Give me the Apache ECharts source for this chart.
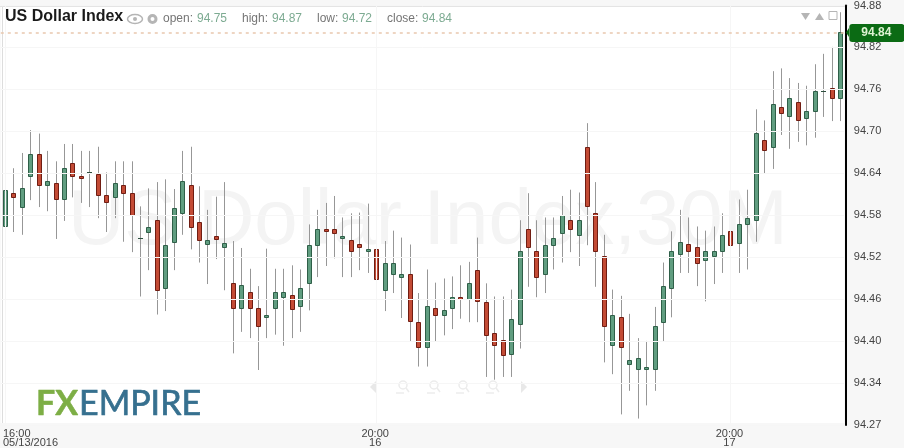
<!DOCTYPE html>
<html>
<head>
<meta charset="utf-8">
<style>html,body{margin:0;padding:0;background:#fff}#chart{width:904px;height:448px}</style>
<script src="https://cdn.jsdelivr.net/npm/echarts@6/dist/echarts.min.js"></script>
</head>
<body>
<div id="chart"></div>
<script>
var opens = [94.562,94.610,94.589,94.634,94.666,94.621,94.624,94.600,94.652,94.634,
  94.639,94.637,94.607,94.604,94.621,94.610,94.544,94.553,94.570,94.472,
  94.539,94.581,94.621,94.567,94.536,94.547,94.532,94.479,94.443,94.467,
  94.444,94.430,94.443,94.460,94.462,94.447,94.479,94.535,94.557,94.557,
  94.544,94.542,94.536,94.526,94.529,94.470,94.492,94.488,94.492,94.423,
  94.387,94.443,94.433,94.443,94.460,94.457,94.498,94.452,94.407,94.397,
  94.377,94.420,94.557,94.525,94.492,94.535,94.552,94.570,94.549,94.675,
  94.581,94.519,94.390,94.430,94.362,94.355,94.355,94.355,94.423,94.472,
  94.522,94.536,94.532,94.512,94.519,94.525,94.554,94.537,94.564,94.570,
  94.686,94.675,94.734,94.721,94.741,94.717,94.727,94.757,94.761,94.747];
var closes = [94.614,94.604,94.617,94.666,94.621,94.627,94.601,94.646,94.634,94.631,
  94.639,94.607,94.596,94.624,94.609,94.577,94.544,94.560,94.470,94.535,
  94.587,94.627,94.560,94.542,94.542,94.543,94.537,94.444,94.477,94.444,
  94.417,94.434,94.467,94.467,94.442,94.472,94.535,94.557,94.554,94.552,
  94.547,94.526,94.532,94.529,94.485,94.508,94.509,94.492,94.424,94.387,
  94.447,94.433,94.440,94.460,94.457,94.479,94.454,94.405,94.390,94.375,
  94.427,94.526,94.532,94.488,94.535,94.544,94.577,94.557,94.570,94.591,
  94.526,94.417,94.433,94.387,94.368,94.372,94.358,94.417,94.475,94.525,
  94.539,94.526,94.508,94.525,94.525,94.549,94.535,94.564,94.573,94.696,
  94.672,94.737,94.724,94.747,94.714,94.727,94.757,94.757,94.747,94.842];
var highs = [94.649,94.645,94.667,94.700,94.695,94.670,94.655,94.680,94.680,94.670,
  94.670,94.676,94.639,94.655,94.655,94.655,94.590,94.616,94.625,94.629,
  94.615,94.670,94.676,94.619,94.585,94.604,94.625,94.540,94.530,94.500,
  94.475,94.529,94.500,94.500,94.505,94.499,94.564,94.585,94.595,94.605,
  94.574,94.580,94.581,94.594,94.564,94.540,94.555,94.545,94.535,94.465,
  94.499,94.480,94.486,94.489,94.505,94.510,94.545,94.479,94.460,94.460,
  94.470,94.570,94.609,94.570,94.574,94.574,94.605,94.614,94.610,94.710,
  94.625,94.549,94.470,94.461,94.435,94.400,94.396,94.445,94.509,94.554,
  94.585,94.574,94.561,94.555,94.561,94.580,94.610,94.600,94.614,94.730,
  94.714,94.785,94.789,94.775,94.768,94.764,94.795,94.810,94.820,94.870];
var lows = [94.534,94.553,94.549,94.599,94.589,94.583,94.543,94.569,94.603,94.595,
  94.589,94.573,94.553,94.573,94.539,94.524,94.460,94.498,94.434,94.439,
  94.498,94.549,94.528,94.509,94.478,94.514,94.469,94.378,94.409,94.400,
  94.354,94.400,94.405,94.389,94.400,94.409,94.440,94.488,94.504,94.515,
  94.488,94.488,94.498,94.494,94.450,94.439,94.465,94.429,94.395,94.359,
  94.359,94.395,94.404,94.413,94.428,94.423,94.423,94.344,94.340,94.344,
  94.344,94.385,94.474,94.459,94.465,94.499,94.509,94.524,94.504,94.534,
  94.474,94.365,94.348,94.290,94.324,94.284,94.303,94.324,94.395,94.430,
  94.494,94.494,94.475,94.453,94.478,94.494,94.485,94.494,94.499,94.539,
  94.638,94.644,94.693,94.673,94.683,94.678,94.689,94.719,94.713,94.713];

var tickIndexes = [0, 44, 86];
var tickLabels = ['16:00\n05/13/2016', '20:00\n16', '20:00\n17'];
var yTicks = [94.2747,94.3352,94.3957,94.4562,94.5167,94.5772,94.6377,94.6982,94.7587,94.8192,94.8797];
var header = [['open:', '94.75', 163, 197], ['high:', '94.87', 242, 272], ['low:', '94.72', 317, 342], ['close:', '94.84', 387, 422]];

var categories = opens.map(function (o, i) {
  var k = tickIndexes.indexOf(i);
  return k >= 0 ? tickLabels[k] : String(i);
});
var isTick = function (i) { return tickIndexes.indexOf(i) >= 0; };
var lastClose = closes[closes.length - 1];

function renderCandle(params, api) {
  var i = api.value(0), o = api.value(1), c = api.value(2);
  var px = Math.round(api.coord([i, o])[0]);
  var yHigh = api.coord([i, api.value(4)])[1];
  var yLow = api.coord([i, api.value(3)])[1];
  var yTop = Math.round(api.coord([i, Math.max(o, c)])[1]) + 0.5;
  var yBot = Math.round(api.coord([i, Math.min(o, c)])[1]) + 0.5;
  var up = c >= o;
  var kids = [{
    type: 'line',
    shape: { x1: px + 0.5, y1: yHigh, x2: px + 0.5, y2: yLow },
    style: { stroke: '#979797', lineWidth: 1 }
  }];
  if (o === c) {
    kids.push({
      type: 'line',
      shape: { x1: px - 2, y1: yTop, x2: px + 3, y2: yTop },
      style: { stroke: '#2d4f3e', lineWidth: 1 }
    });
  } else {
    kids.push({
      type: 'rect',
      shape: { x: px - 1.5, y: yTop, width: 4, height: yBot - yTop },
      style: { fill: up ? '#609d80' : '#c34b35', stroke: up ? '#2f5f48' : '#701d12', lineWidth: 1 }
    });
  }
  return { type: 'group', children: kids };
}

// faint zoom/scroll toolbar at the bottom of the plot
function toolbarIcons() {
  var col = '#ececec', out = [];
  out.push({ type: 'polygon', z: 1, shape: { points: [[376, 381], [376, 393], [370, 387]] }, style: { fill: '#e8e8e8' } });
  out.push({ type: 'polygon', z: 1, shape: { points: [[521, 381], [521, 393], [527, 387]] }, style: { fill: '#e8e8e8' } });
  [403, 434, 463, 493].forEach(function (x) {
    out.push({ type: 'circle', z: 1, shape: { cx: x, cy: 385, r: 4 }, style: { fill: 'none', stroke: col, lineWidth: 1.5 } });
    out.push({ type: 'line', z: 1, shape: { x1: x + 3, y1: 388, x2: x + 6, y2: 392 }, style: { stroke: col, lineWidth: 1.5 } });
    out.push({ type: 'line', z: 1, shape: { x1: x - 7, y1: 393, x2: x + 1, y2: 393 }, style: { stroke: col, lineWidth: 1.5 } });
  });
  return out;
}

function headerTexts() {
  var out = [];
  header.forEach(function (h) {
    out.push({ type: 'text', z: 5, x: h[2], y: 13, style: { text: h[0], fill: '#757575', font: '12px "Liberation Sans"' } });
    out.push({ type: 'text', z: 5, x: h[3], y: 13, style: { text: h[1], fill: '#7dab92', font: '12px "Liberation Sans"' } });
  });
  return out;
}

var chart = echarts.init(document.getElementById('chart'), null, { renderer: 'canvas' });
chart.setOption({
  animation: false,
  backgroundColor: '#f7f7f7',
  textStyle: { fontFamily: '"Liberation Sans", Arial, sans-serif' },
  grid: { left: 0.3, width: 844, top: 5, height: 420, show: true, backgroundColor: '#fff', borderWidth: 0 },
  xAxis: {
    type: 'category',
    data: categories,
    z: 6,
    axisLine: { show: false },
    axisTick: { show: false },
    axisLabel: {
      interval: function (i) { return isTick(i); },
      alignMinLabel: 'left',
      margin: 4,
      padding: [0, 0, 0, -2],
      color: '#444',
      fontSize: 11,
      lineHeight: 9
    },
    splitLine: {
      show: true,
      alignWithLabel: true,
      interval: function (i) { return isTick(i); },
      lineStyle: { color: '#f6f6f6' }
    }
  },
  yAxis: {
    type: 'value',
    position: 'right',
    offset: 1.5,
    min: yTicks[0],
    max: yTicks[yTicks.length - 1],
    z: 6,
    axisLine: { show: true, lineStyle: { color: '#000', width: 2 } },
    axisTick: { show: false, customValues: yTicks },
    axisLabel: {
      customValues: yTicks,
      margin: 8,
      padding: [2, 0, 0, 0],
      color: '#444',
      fontSize: 11,
      formatter: function (v) { return v.toFixed(2); }
    },
    splitLine: { show: true, lineStyle: { color: '#f6f6f6' } }
  },
  series: [{
    type: 'custom',
    renderItem: renderCandle,
    clip: false,
    z: 3,
    encode: { x: 0, y: [1, 2, 3, 4] },
    data: opens.map(function (o, i) { return [i, o, closes[i], lows[i], highs[i]]; }),
    markLine: {
      silent: true,
      symbol: 'none',
      z: 7,
      lineStyle: { color: '#e9c8ae', type: [3, 4], width: 1.5 },
      label: {
        position: 'end',
        distance: 5,
        formatter: function (p) { return p.value.toFixed(2); },
        color: '#dff3d3',
        fontWeight: 'bold',
        fontSize: 12,
        backgroundColor: '#0b6b14',
        borderRadius: 3,
        padding: [3, 13, 3, 12]
      },
      data: [{ yAxis: lastClose }]
    }
  }],
  graphic: [
    // bottom strip, frame
    { type: 'rect', z: 2, shape: { x: 0, y: 423, width: 844, height: 25 }, style: { fill: '#f7f7f7' } },
    { type: 'line', z: 2, shape: { x1: 2.5, y1: 6, x2: 2.5, y2: 423 }, style: { stroke: '#dddddd', lineWidth: 1 } },
    { type: 'line', z: 2, shape: { x1: 0, y1: 6.5, x2: 845, y2: 6.5 }, style: { stroke: '#e4e4e4', lineWidth: 1 } },
    // watermark
    { type: 'text', z: 1, x: 68, y: 183, style: { text: 'US Dollar Index,30M', fill: '#f4f4f4', font: '78px "Liberation Sans"' } },
    // title row
    { type: 'text', z: 5, x: 5, y: 9, style: { text: 'US Dollar Index', fill: '#1a1a1a', font: 'bold 16px "Liberation Sans"' } },
    { type: 'ellipse', z: 5, shape: { cx: 135, cy: 19, rx: 7.5, ry: 4.5 }, style: { fill: 'none', stroke: '#b5b5b5', lineWidth: 1.5 } },
    { type: 'circle', z: 5, shape: { cx: 135, cy: 19, r: 2 }, style: { fill: '#b5b5b5' } },
    { type: 'circle', z: 5, shape: { cx: 152.5, cy: 19, r: 3.5 }, style: { fill: 'none', stroke: '#b5b5b5', lineWidth: 3 } },
    { type: 'polygon', z: 5, shape: { points: [[801, 13], [810, 13], [805.5, 20]] }, style: { fill: '#b5b5b5' } },
    { type: 'polygon', z: 5, shape: { points: [[815, 20], [824, 20], [819.5, 13]] }, style: { fill: '#b5b5b5' } },
    { type: 'rect', z: 5, shape: { x: 829, y: 11.5, width: 8, height: 8 }, style: { fill: 'none', stroke: '#b5b5b5', lineWidth: 1 } },
    // price tag notch
    { type: 'polygon', z: 8, shape: { points: [[849, 28], [849, 37], [846, 32.5]] }, style: { fill: '#0b6b14' } },
    // logo
    { type: 'text', z: 5, x: 36, y: 387, style: { text: 'FX', fill: '#7dae45', font: 'bold 34px "Lato"', stroke: '#7dae45', lineWidth: 0.5 } },
    { type: 'text', z: 5, x: 79, y: 387, style: { text: 'EMPIRE', fill: '#36708f', font: '34px "Lato"', stroke: '#36708f', lineWidth: 0.7 } }
  ].concat(toolbarIcons(), headerTexts())
});
</script>
</body>
</html>
